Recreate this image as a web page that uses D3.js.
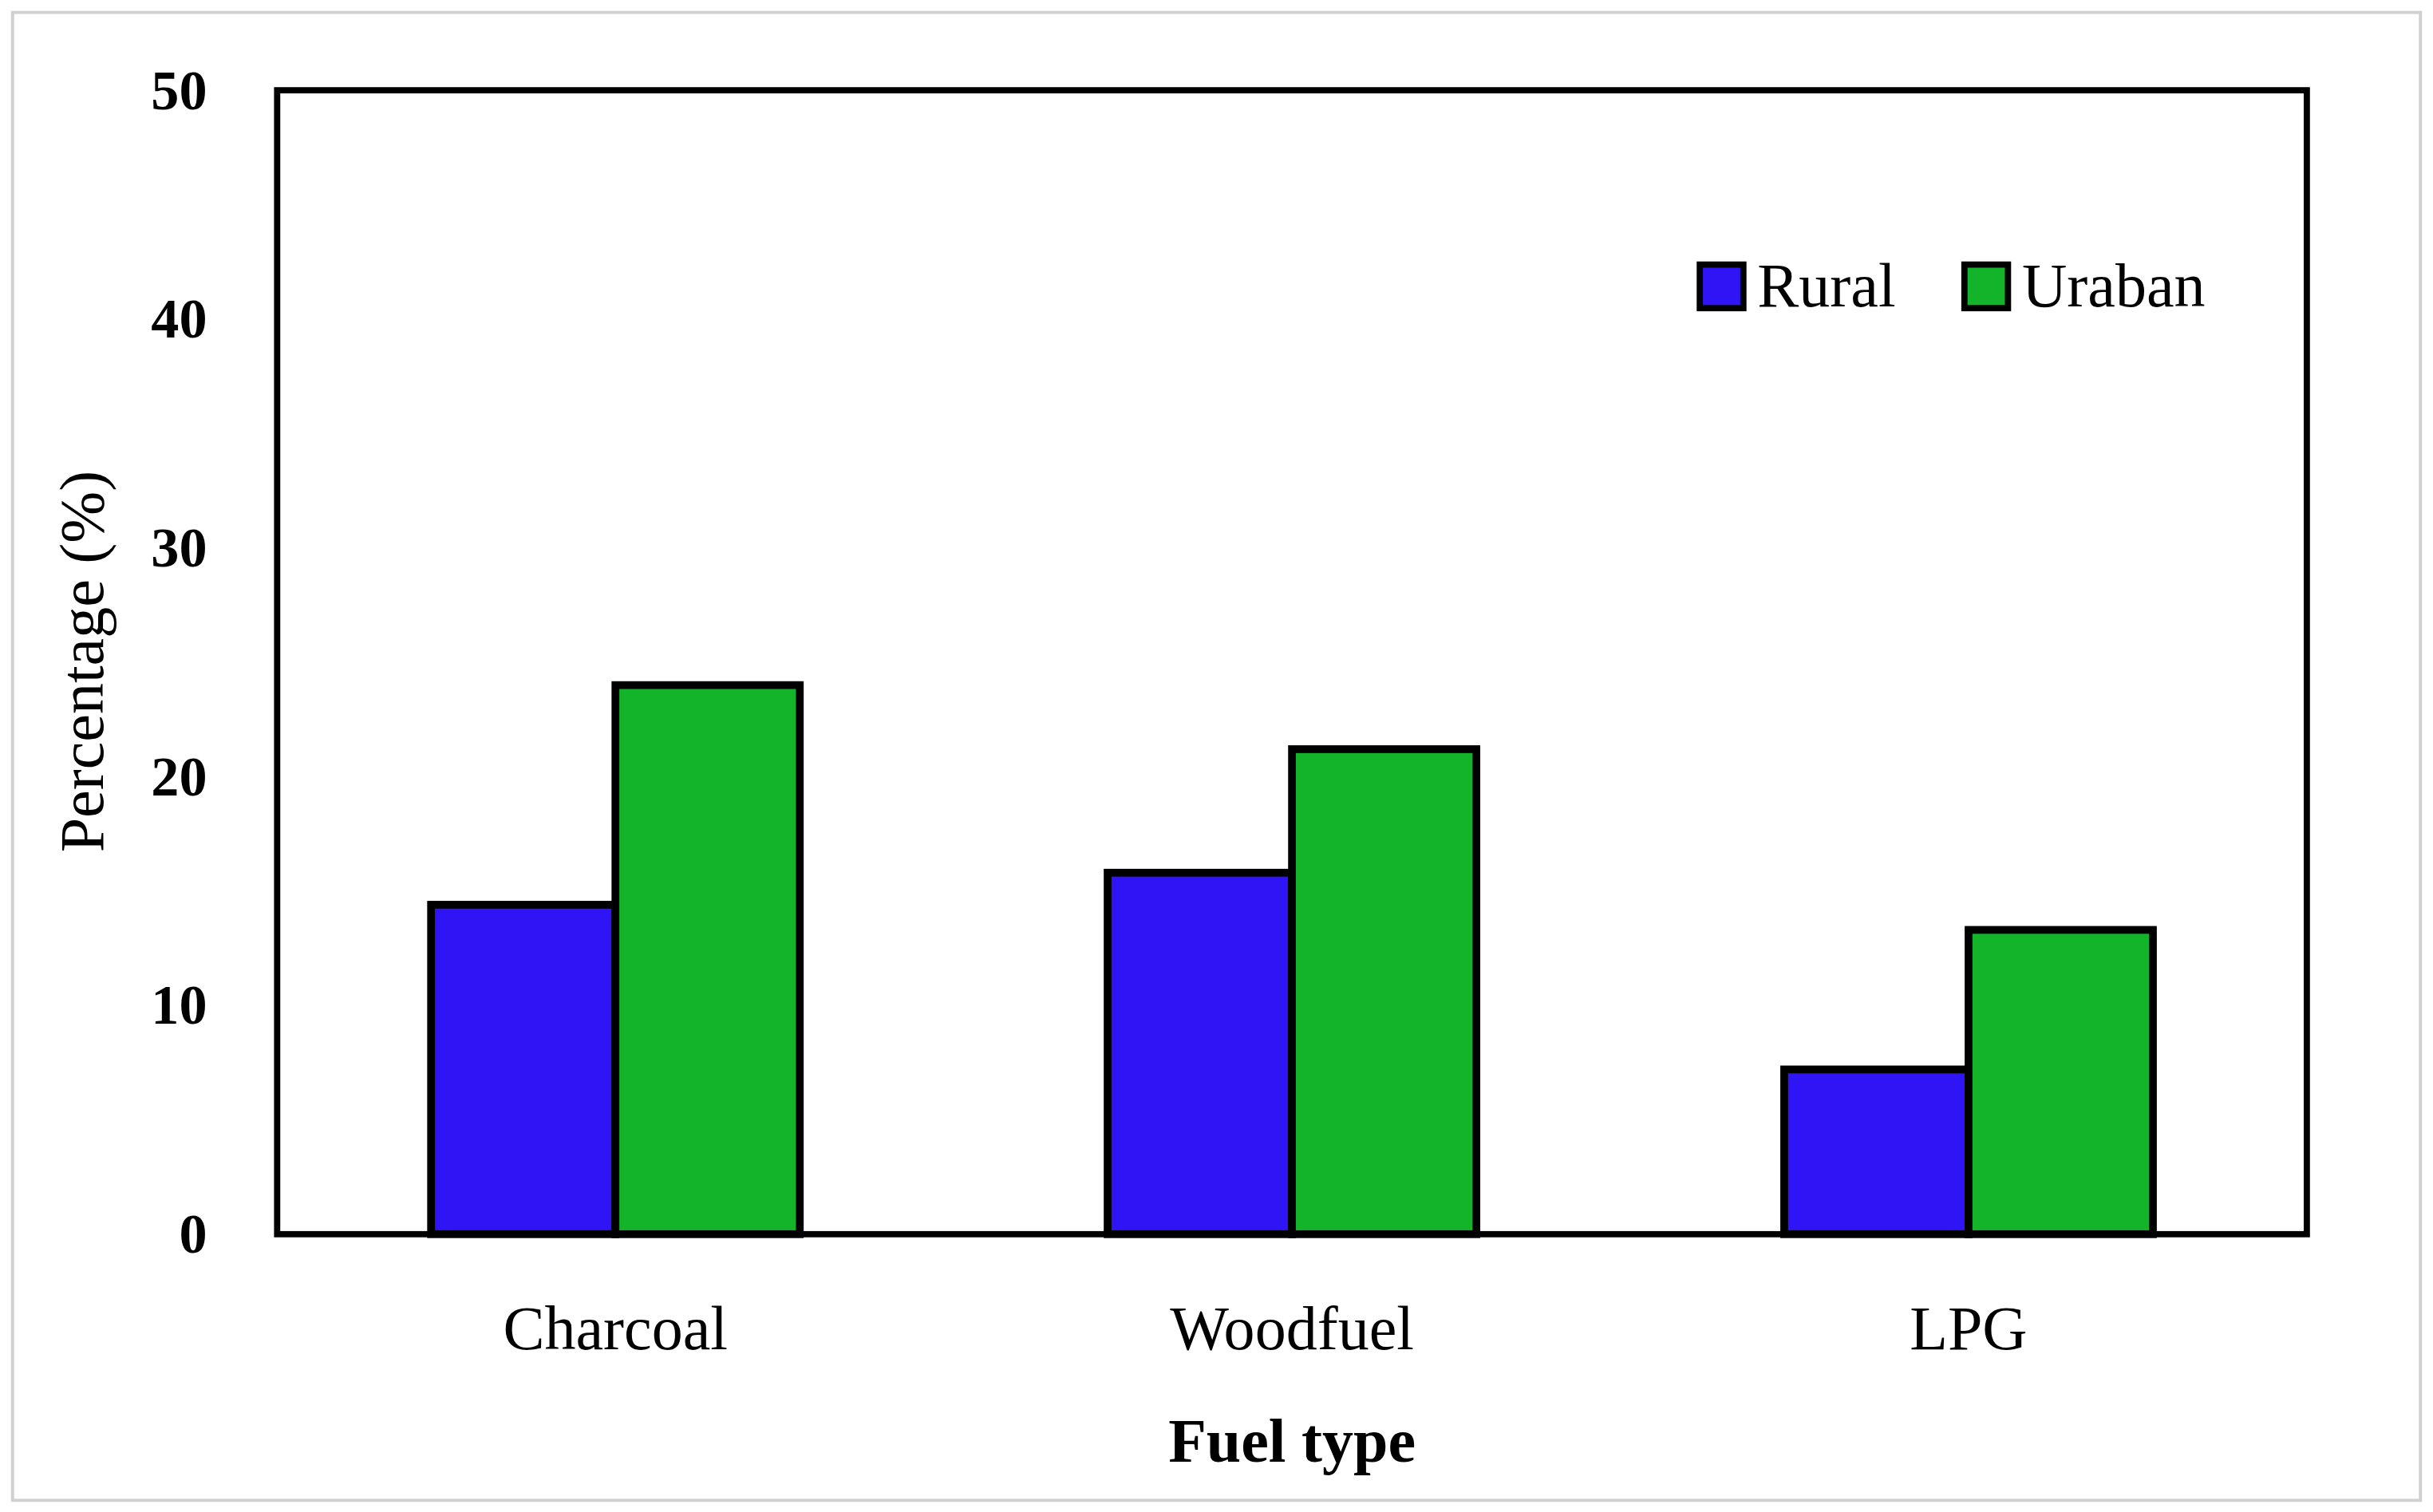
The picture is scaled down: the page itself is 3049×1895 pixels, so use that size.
<!DOCTYPE html>
<html><head><meta charset="utf-8">
<script src="https://cdn.jsdelivr.net/npm/d3@7"></script>
<style>body{margin:0;background:#fff}</style>
</head><body>
<script>
const categories = ['Charcoal', 'Woodfuel', 'LPG'];
const seriesNames = ['Rural', 'Uraban'];
const rural = [14.4, 15.8, 7.2];
const urban = [24.0, 21.2, 13.3];
const yTicks = [0, 10, 20, 30, 40, 50];
const colors = ['#2f14f5', '#14b42a'];

const svg = d3.select('body').append('svg')
  .attr('width', 3049).attr('height', 1895)
  .attr('viewBox', '0 0 1563 971.5');

const font = '"Liberation Serif", "DejaVu Serif", serif';
const m = {left: 178, right: 1482, top: 58, bottom: 793};

// outer frame
svg.append('rect').attr('x', 8).attr('y', 8).attr('width', 1547).attr('height', 956)
  .attr('fill', 'none').attr('stroke', '#d0d0d0').attr('stroke-width', 2);

const x = d3.scaleBand().domain(categories).range([m.left, m.right])
  .paddingInner(0.455).paddingOuter(0.2275);
const xs = d3.scaleBand().domain(seriesNames).range([0, x.bandwidth()]);
const y = d3.scaleLinear().domain([0, 50]).range([m.bottom, m.top]);

const data = categories.map((c, i) => ({c, vals: [rural[i], urban[i]]}));

const groups = svg.selectAll('g.cat').data(data).enter().append('g')
  .attr('transform', d => `translate(${x(d.c)},0)`);
groups.selectAll('rect').data(d => d.vals.map((v, j) => ({v, j}))).enter().append('rect')
  .attr('x', d => xs(seriesNames[d.j]))
  .attr('y', d => y(d.v))
  .attr('width', xs.bandwidth())
  .attr('height', d => y(0) - y(d.v))
  .attr('fill', d => colors[d.j])
  .attr('stroke', '#000').attr('stroke-width', 5);

// plot frame
svg.append('rect').attr('x', m.left).attr('y', m.top)
  .attr('width', m.right - m.left).attr('height', m.bottom - m.top)
  .attr('fill', 'none').attr('stroke', '#000').attr('stroke-width', 4);

// y tick labels
svg.selectAll('text.yt').data(yTicks).enter().append('text')
  .attr('x', 133).attr('y', d => y(d) + 12)
  .attr('text-anchor', 'end').attr('font-family', font)
  .attr('font-weight', 'bold').attr('font-size', 36).text(d => d);

// x tick labels
svg.selectAll('text.xt').data(categories).enter().append('text')
  .attr('x', d => x(d) + x.bandwidth() / 2).attr('y', 867)
  .attr('text-anchor', 'middle').attr('font-family', font)
  .attr('font-size', 40).text(d => d);

svg.append('text').attr('x', 830).attr('y', 939).attr('text-anchor', 'middle')
  .attr('font-family', font).attr('font-weight', 'bold').attr('font-size', 40).text('Fuel type');

svg.append('text').attr('transform', 'translate(66,425) rotate(-90)')
  .attr('text-anchor', 'middle').attr('font-family', font).attr('font-size', 40)
  .text('Percentage (%)');

// legend
const legX = [1092, 1262];
const leg = svg.selectAll('g.leg').data(seriesNames).enter().append('g')
  .attr('transform', (d, i) => `translate(${legX[i]},170)`);
leg.append('rect').attr('width', 28).attr('height', 28)
  .attr('fill', (d, i) => colors[i]).attr('stroke', '#000').attr('stroke-width', 4);
leg.append('text').attr('x', 37).attr('y', 27).attr('font-family', font)
  .attr('font-size', 40).text(d => d);
</script>
</body></html>
